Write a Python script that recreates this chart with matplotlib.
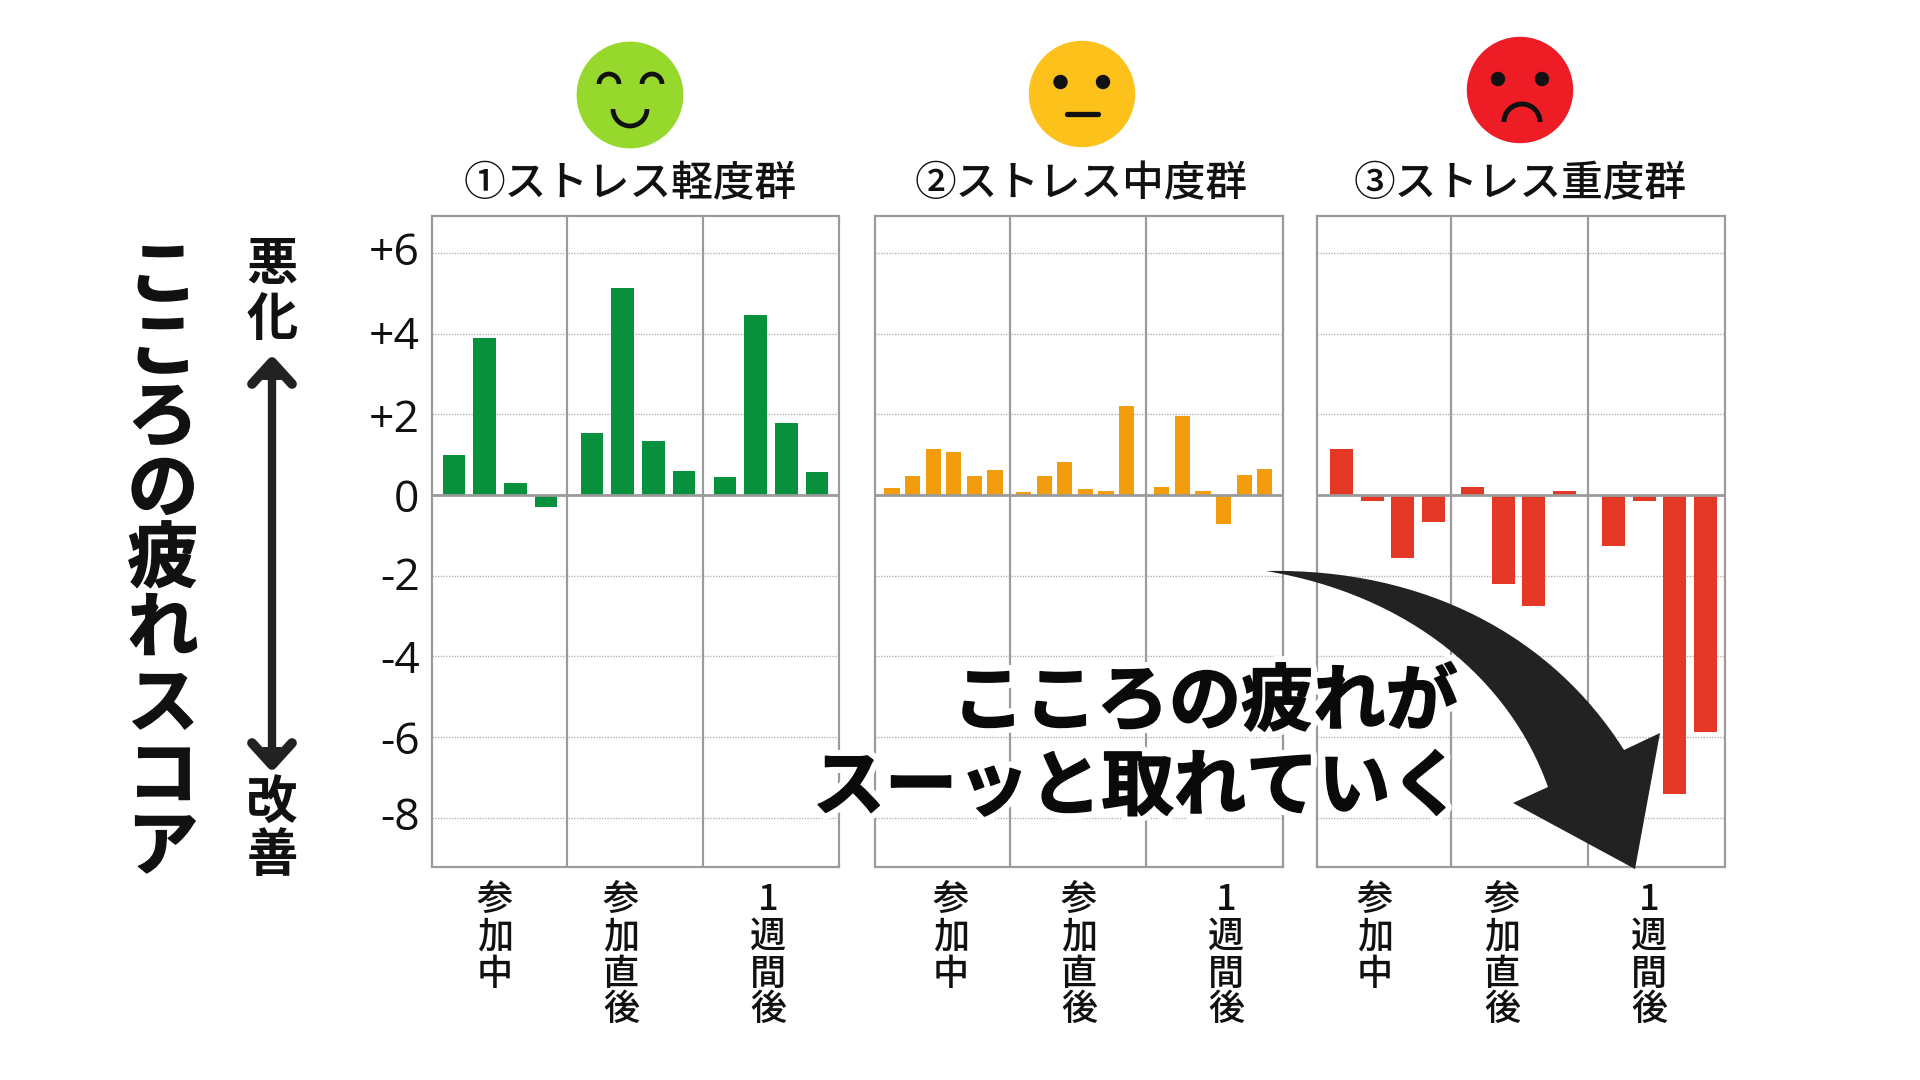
import matplotlib
matplotlib.use("Agg")
import matplotlib.pyplot as plt
import matplotlib.patheffects as pe
from matplotlib.patches import Circle, Arc, PathPatch, Polygon
from matplotlib.path import Path
from matplotlib.transforms import ScaledTranslation

plt.rcParams['font.family'] = ['Noto Sans CJK JP', 'DejaVu Sans']

# values, one list per period
mild = [[0.98, 3.88, 0.29, -0.29], [1.53, 5.12, 1.33, 0.60], [0.45, 4.46, 1.79, 0.56]]
moderate = [[0.17, 0.48, 1.13, 1.06, 0.48, 0.62],
            [0.07, 0.48, 0.81, 0.16, 0.09, 2.20],
            [0.19, 1.96, 0.09, -0.71, 0.50, 0.64]]
severe = [[1.13, -0.15, -1.57, -0.66], [0.19, -2.21, -2.76, 0.09], [-1.26, -0.15, -7.40, -5.88]]

titles = ['①ストレス軽度群', '②ストレス中度群', '③ストレス重度群']
periods = ['参加中', '参加直後', '1週間後']
yticks = [6, 4, 2, 0, -2, -4, -6, -8]
ytick_labels = ['+6', '+4', '+2', '0', '-2', '-4', '-6', '-8']

W, H = 1920, 1080
Y0, Y1 = 216, 867  # top and bottom of the panels in pixels
ZERO = 495
PER_UNIT = 40.35
GRAY = '#9b9b9b'
DARK = '#222222'

# left, right, two dividers, start of each group, bar step, bar width, colour
panels = [
    (432, 839, [567, 703], [22, 160, 293], 30.7, 22.7, '#08913c', mild),
    (875, 1283, [1009.5, 1146], [17, 148.5, 286.7], 20.6, 15.2, '#f39c0d', moderate),
    (1316.5, 1725, [1450.5, 1588], [25, 156, 297], 30.6, 23, '#e53726', severe),
]
title_x = [630, 1081, 1520]
period_x = [[495, 621, 768], [951, 1079, 1226], [1375, 1502, 1649]]
# the tick labels do not sit exactly on their gridlines in the original
label_nudge = [5, 1, -1, 0, 2, 0, 0, 5]

fig = plt.figure(figsize=(W / 100, H / 100), dpi=100, facecolor='white')

for n, (left, right, dividers, starts, step, width, color, groups) in enumerate(panels):
    ax = fig.add_axes([left / W, 1 - Y1 / H, (right - left) / W, (Y1 - Y0) / H])
    ax.set_xlim(0, right - left)
    ax.set_ylim((ZERO - Y1) / PER_UNIT, (ZERO - Y0) / PER_UNIT)
    for start, values in zip(starts, groups):
        xs = [start + i * step for i in range(len(values))]
        ax.bar(xs, values, width=width, color=color, zorder=2)
    ax.set_xticks([])
    ax.set_yticks(yticks)
    ax.grid(axis='y', color='#b5b5b5', lw=1, ls=(0, (1, 1)), zorder=1)
    ax.axhline(0, color=GRAY, lw=2, zorder=3)
    for d in dividers:
        ax.axvline(d - left, color=GRAY, lw=1.6, zorder=3)
    for s in ax.spines.values():
        s.set_color(GRAY)
        s.set_linewidth(1.6)
    if n == 0:
        ax.set_yticklabels(ytick_labels, fontsize=32, family='Open Sans', color='#111111')
        ax.tick_params(axis='y', length=0, pad=9)
        for lab, dy in zip(ax.get_yticklabels(), label_nudge):
            lab.set_transform(lab.get_transform() + ScaledTranslation(0, dy / 100, fig.dpi_scale_trans))
    else:
        ax.tick_params(axis='y', length=0, labelleft=False)

# overlay in pixel coordinates for the faces, arrows and captions
ov = fig.add_axes([0, 0, 1, 1], facecolor='none')
ov.set_xlim(0, W)
ov.set_ylim(H, 0)
ov.axis('off')

def stacked(text, x, ys, size, weight='normal', effects=None):
    for ch, y in zip(text, ys):
        ov.text(x, y, ch, fontsize=size, fontweight=weight, ha='center', va='center',
                color='#111111', path_effects=effects)

for x, t in zip(title_x, titles):
    ov.text(x, 184, t, fontsize=30, fontweight='medium', ha='center', va='center', color='#111111')

label_y = [900, 937, 975, 1010]
for xs in period_x:
    for x, t in zip(xs, periods):
        stacked(t, x, label_y, 26, 'medium')

fat = [pe.withStroke(linewidth=1.0, foreground='#111111')]
stacked('こころの疲れスコア', 163, [277, 349, 419, 490, 560, 630, 705, 777, 848], 51, 'bold', fat)
stacked('悪化', 272, [265, 319], 37, 'bold')
stacked('改善', 272, [803, 856], 37, 'bold')

# double arrow next to the score label
ov.plot([272, 272], [365, 762], color=DARK, lw=6, solid_capstyle='butt')
ov.plot([252, 272, 292], [384, 362, 384], color=DARK, lw=7, solid_capstyle='round', solid_joinstyle='round')
ov.plot([252, 272, 292], [743, 765, 743], color=DARK, lw=7, solid_capstyle='round', solid_joinstyle='round')
ov.add_patch(Polygon([(262, 380), (272, 366), (282, 380)], fc=DARK, ec='none'))
ov.add_patch(Polygon([(262, 747), (272, 761), (282, 747)], fc=DARK, ec='none'))

# faces
ov.add_patch(Circle((630, 95), 52.7, color='#96d82c'))
ov.add_patch(Arc((609, 84), 20, 20, theta1=180, theta2=360, color='#111111', lw=3.4))
ov.add_patch(Arc((652, 84), 20, 20, theta1=180, theta2=360, color='#111111', lw=3.4))
ov.add_patch(Arc((630, 109), 34, 34, theta1=0, theta2=180, color='#111111', lw=3.4))

ov.add_patch(Circle((1082, 94), 52.5, color='#fdc11b'))
ov.add_patch(Circle((1060.5, 82), 6.5, color='#111111'))
ov.add_patch(Circle((1103, 82), 6.5, color='#111111'))
ov.plot([1067, 1098], [113.5, 113.5], color='#111111', lw=3.8, solid_capstyle='round')

ov.add_patch(Circle((1520, 90), 52.5, color='#ee1c25'))
ov.add_patch(Circle((1498, 79), 6.5, color='#111111'))
ov.add_patch(Circle((1542, 79), 6.5, color='#111111'))
ov.add_patch(Arc((1522, 122), 36, 36, theta1=180, theta2=360, color='#111111', lw=3.6))

# big curved arrow
verts = [(1266, 571), (1425, 568), (1552, 636), (1624, 750), (1660, 733), (1635, 869), (1513, 803),
         (1548, 787), (1510, 680), (1410, 595), (1266, 571)]
codes = [Path.MOVETO, Path.CURVE4, Path.CURVE4, Path.CURVE4, Path.LINETO, Path.LINETO, Path.LINETO,
         Path.LINETO, Path.CURVE4, Path.CURVE4, Path.CURVE4]
ov.add_patch(PathPatch(Path(verts, codes), fc=DARK, ec='none'))

halo = [pe.withStroke(linewidth=10, foreground='white'), pe.withStroke(linewidth=1.2, foreground='#0a0a0a')]
ov.text(1458, 703, 'こころの疲れが', fontsize=52, fontweight='bold', ha='right', va='center',
        color='#0a0a0a', path_effects=halo)
ov.text(1463, 788, 'スーッと取れていく', fontsize=52, fontweight='bold', ha='right', va='center',
        color='#0a0a0a', path_effects=halo)

fig.savefig('out.png', dpi=100)
